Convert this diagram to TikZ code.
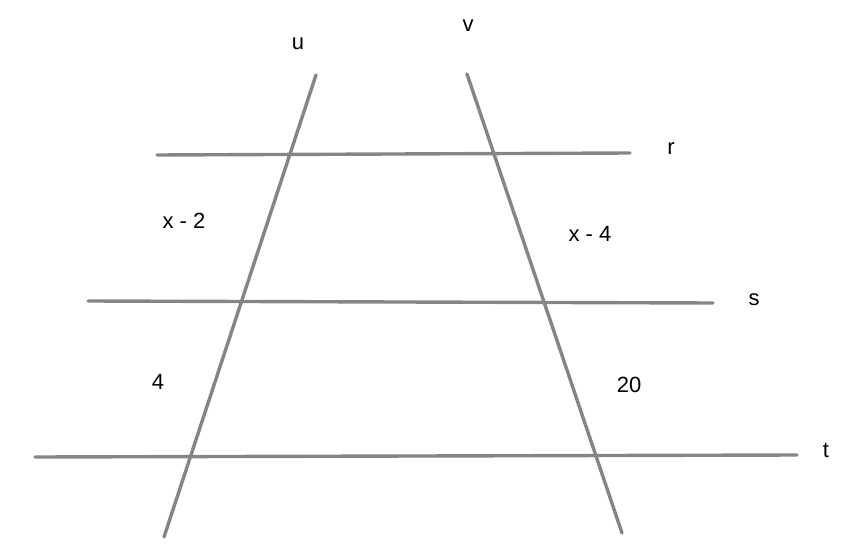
\documentclass[tikz,border=0pt]{standalone}
\usepackage{fontspec}
\setmainfont{Liberation Sans}
\begin{document}
\begin{tikzpicture}[x=1pt, y=-1pt,
    line/.style={line width=3.4pt, color=black!48, line cap=round},
    lbl/.style={font=\fontsize{22}{26}\selectfont, inner sep=0pt}]
    \useasboundingbox (0,0) rectangle (851,556);

    % Parallel lines
    \coordinate (r1) at (157,155); \coordinate (r2) at (630,153);
    \coordinate (s1) at (88,301);  \coordinate (s2) at (713,303);
    \coordinate (t1) at (35,457);  \coordinate (t2) at (797,455);
    \draw[line] (r1) -- (r2);
    \draw[line] (s1) -- (s2);
    \draw[line] (t1) -- (t2);

    % Transversals
    \coordinate (u1) at (316,75);  \coordinate (u2) at (164,537);
    \coordinate (v1) at (467,74);  \coordinate (v2) at (622,533);
    \draw[line] (u1) -- (u2);
    \draw[line] (v1) -- (v2);

    % Line names
    \node[lbl] (u) at (298,44) {u};
    \node[lbl] (v) at (468,26) {v};
    \node[lbl] (r) at (671,149) {r};
    \node[lbl] (s) at (754,300) {s};
    \node[lbl] (t) at (826,450) {t};

    % Segment lengths
    \node[lbl] (ua) at (184,221) {x - 2};
    \node[lbl] (ub) at (158,382) {4};
    \node[lbl] (va) at (590,234) {x - 4};
    \node[lbl] (vb) at (629,385) {20};
\end{tikzpicture}
\end{document}
